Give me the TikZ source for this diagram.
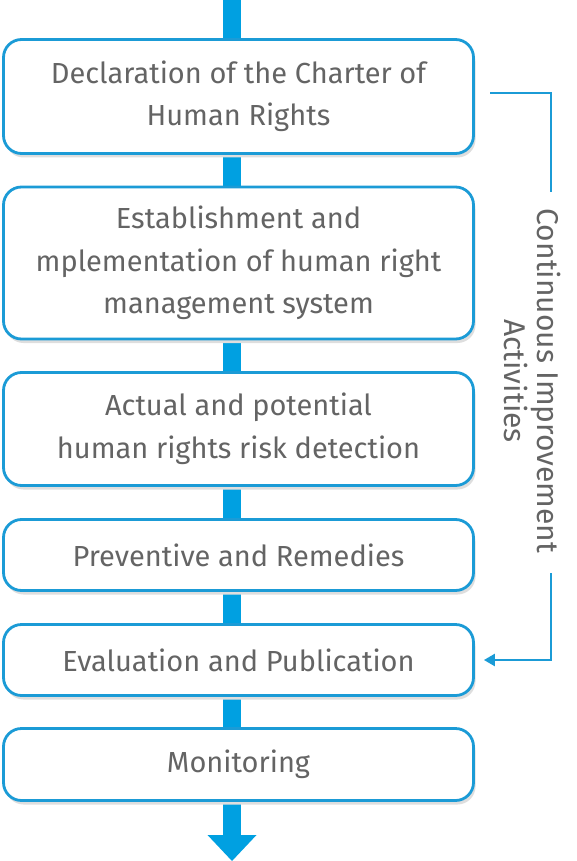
\documentclass[tikz,border=0pt]{standalone}
\usepackage{fontspec}
\setmainfont{Fira Sans}
\usetikzlibrary{shadows,backgrounds,arrows.meta}
\definecolor{boxblue}{RGB}{27,155,214}
\definecolor{barblue}{RGB}{0,160,225}
\definecolor{txtgray}{RGB}{100,100,100}
\tikzset{
  stage/.style={draw=boxblue, line width=2.8pt, fill=white, rounded corners=18pt,
    minimum width=470pt, inner sep=0pt, text=txtgray, align=center,
    font=\fontsize{29}{42.5}\selectfont,
    drop shadow={shadow xshift=2pt, shadow yshift=-4pt, fill=black!13, opacity=1}},
  bar/.style={line width=18pt, draw=barblue},
  loopline/.style={draw=boxblue, line width=2.4pt},
}
\begin{document}
\begin{tikzpicture}[x=1pt,y=-1pt]
\useasboundingbox (0,0) rectangle (576,861);
\node[stage, minimum height=114pt] (s1) at (238.5,96.5) {Declaration of the Charter of\\Human Rights};
\node[stage, minimum height=152pt] (s2) at (238.5,263) {Establishment and\\mplementation of human right\\management system};
\node[stage, minimum height=113pt] (s3) at (238.5,429) {Actual and potential\\human rights risk detection};
\node[stage, minimum height=71pt] (s4) at (238.5,555) {Preventive and Remedies};
\node[stage, minimum height=71pt] (s5) at (238.5,660) {Evaluation and Publication};
\node[stage, minimum height=72pt] (s6) at (238.5,764.5) {Monitoring};
\coordinate (top) at (232,0);
\coordinate (tipbase) at (232,835);
\begin{scope}[on background layer]
\draw[bar] (top) -- ([xshift=-6.5pt]s1.center);
\draw[bar] ([xshift=-6.5pt]s1.center) -- ([xshift=-6.5pt]s2.center);
\draw[bar] ([xshift=-6.5pt]s2.center) -- ([xshift=-6.5pt]s3.center);
\draw[bar] ([xshift=-6.5pt]s3.center) -- ([xshift=-6.5pt]s4.center);
\draw[bar] ([xshift=-6.5pt]s4.center) -- ([xshift=-6.5pt]s5.center);
\draw[bar] ([xshift=-6.5pt]s5.center) -- ([xshift=-6.5pt]s6.center);
\draw[bar] ([xshift=-6.5pt]s6.center) -- (tipbase);
\end{scope}
\fill[barblue] ([xshift=-24.5pt]tipbase) -- ([xshift=24.5pt]tipbase) -- ([yshift=-26pt]tipbase) -- cycle;
% continuous improvement loop
\node[text=txtgray, rotate=-90, align=center, font=\fontsize{30}{33}\selectfont] (ci) at (533,381) {Continuous Improvement\\Activities};
\coordinate (l1) at (490,93);
\coordinate (l2) at (551,93);
\coordinate (l3) at (551,192);
\coordinate (l4) at (551,573);
\coordinate (l5) at (551,660);
\draw[loopline] (l1) -- (l2) -- (l3);
\draw[loopline, -{Triangle[length=11pt,width=12pt]}] (l4) -- (l5) -- ([xshift=9pt]s5.east);
\end{tikzpicture}
\end{document}
